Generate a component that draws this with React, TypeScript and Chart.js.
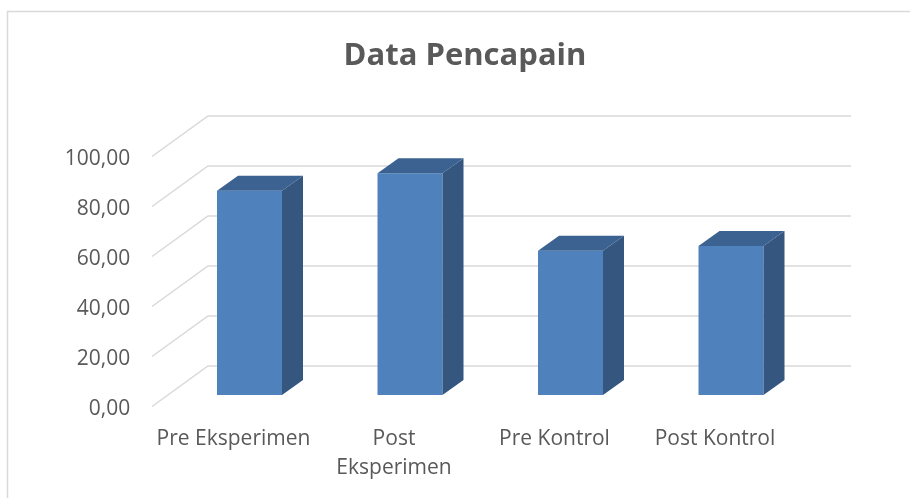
import React, { useEffect, useRef } from "react";
import { Chart, registerables } from "chart.js";

Chart.register(...registerables);

// ---- data ----
const categories: (string | string[])[] = [
  "Pre Eksperimen",
  ["Post", "Eksperimen"],
  "Pre Kontrol",
  "Post Kontrol",
];
const values: number[] = [81.7, 88.7, 57.7, 59.6];
const yMin = 0;
const yMax = 100;
const yStep = 20;
const chartTitle = "Data Pencapain";

// ---- styles ----
const FRONT = "#4f81bd";
const SIDE = "#34567f";
const TOPC = "#3b6290";
const GRID = "#d9d9d9";
const TEXT = "#595959";
const FONT = "'Open Sans', 'Noto Sans', sans-serif";
const DEPTH_X = 21;
const DEPTH_Y = -15;

const threeD = {
  id: "threeD",
  beforeDraw(chart: any) {
    const ctx = chart.ctx;
    ctx.save();
    ctx.fillStyle = "#ffffff";
    ctx.fillRect(0, 0, chart.width, chart.height);
    ctx.strokeStyle = GRID;
    ctx.lineWidth = 1.5;
    ctx.beginPath();
    ctx.moveTo(7.5, chart.height);
    ctx.lineTo(7.5, 11.5);
    ctx.lineTo(chart.width, 11.5);
    ctx.stroke();
    ctx.restore();
  },
  beforeDatasetsDraw(chart: any) {
    const { ctx, chartArea, scales } = chart;
    const ys = scales.y;
    const fx = chartArea.left - 17.25;
    const bx = chartArea.left + 38.75;
    const ex = chartArea.right + 39.75;
    ctx.save();
    ctx.strokeStyle = GRID;
    ctx.lineWidth = 1.5;
    ys.ticks.forEach((t: any) => {
      const yp = ys.getPixelForValue(t.value);
      ctx.beginPath();
      ctx.moveTo(fx, yp + 11.5);
      ctx.lineTo(bx, yp - 29);
      ctx.lineTo(ex, yp - 29);
      ctx.stroke();
    });
    ctx.restore();
  },
  afterDatasetsDraw(chart: any) {
    const ctx = chart.ctx;
    const meta = chart.getDatasetMeta(0);
    ctx.save();
    meta.data.forEach((bar: any) => {
      const { x, y, base, width } = bar.getProps(["x", "y", "base", "width"], true);
      const l = x - width / 2;
      const r = x + width / 2;
      ctx.fillStyle = SIDE;
      ctx.beginPath();
      ctx.moveTo(r, y);
      ctx.lineTo(r + DEPTH_X, y + DEPTH_Y);
      ctx.lineTo(r + DEPTH_X, base + DEPTH_Y);
      ctx.lineTo(r, base);
      ctx.closePath();
      ctx.fill();
      ctx.fillStyle = TOPC;
      ctx.beginPath();
      ctx.moveTo(l, y);
      ctx.lineTo(l + DEPTH_X, y + DEPTH_Y);
      ctx.lineTo(r + DEPTH_X, y + DEPTH_Y);
      ctx.lineTo(r, y);
      ctx.closePath();
      ctx.fill();
    });
    ctx.restore();
  },
};

export default function App() {
  const ref = useRef<HTMLCanvasElement | null>(null);
  useEffect(() => {
    if (!ref.current) return;
    const chart = new Chart(ref.current, {
      type: "bar",
      data: {
        labels: categories,
        datasets: [
          {
            data: values,
            backgroundColor: FRONT,
            borderWidth: 0,
            barPercentage: 0.405,
            categoryPercentage: 1,
          },
        ],
      },
      options: {
        animation: false,
        responsive: false,
        layout: { padding: { left: 40, right: 20, top: 0, bottom: 16.3 } },
        plugins: {
          legend: { display: false },
          tooltip: { enabled: false },
          title: {
            display: true,
            text: chartTitle,
            color: TEXT,
            font: { family: FONT, size: 31, weight: "bold", lineHeight: 1.2 },
            padding: { top: 37.4, bottom: 70.4 },
          },
        },
        scales: {
          x: {
            type: "category",
            offset: true,
            grid: { display: false, drawTicks: false },
            border: { display: false },
            ticks: {
              color: TEXT,
              font: { family: FONT, size: 21, lineHeight: 1.35 },
              padding: 30,
              labelOffset: -16,
              maxRotation: 0,
              autoSkip: false,
            },
            afterFit: (s: any) => {
              s.height = 86.7;
            },
          },
          y: {
            min: yMin,
            max: yMax,
            grid: { display: false, drawTicks: false },
            border: { display: false },
            ticks: {
              stepSize: yStep,
              color: TEXT,
              font: { family: FONT, size: 21 },
              padding: 39,
              labelOffset: 14,
              callback: (v: any) => Number(v).toFixed(2).replace(".", ","),
            },
            afterFit: (s: any) => {
              s.width = 129.25;
            },
          },
          y2: {
            type: "linear",
            position: "right",
            display: true,
            grid: { display: false, drawTicks: false },
            border: { display: false },
            ticks: { display: false },
            afterFit: (s: any) => {
              s.width = 78.75;
            },
          },
        },
      },
      plugins: [threeD],
    });
    return () => chart.destroy();
  }, []);
  return (
    <div style={{ position: "fixed", left: 0, top: 0, width: 910, height: 498, background: "#fff" }}>
      <canvas ref={ref} width={910} height={498} />
    </div>
  );
}
